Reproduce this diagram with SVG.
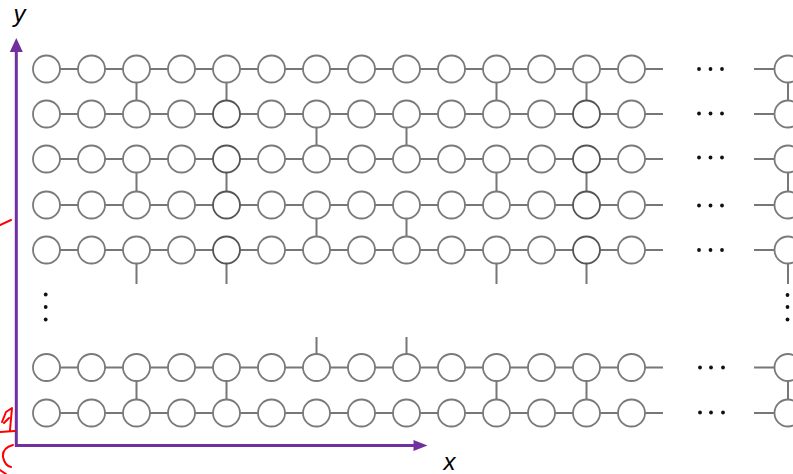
<svg xmlns="http://www.w3.org/2000/svg" width="793" height="474" viewBox="0 0 793 474">
<style>
.n{fill:#fff;stroke:#7a7a7a;stroke-width:1.8}
.dk{stroke:#555}
.e{stroke:#777;stroke-width:2;fill:none}
.ax{stroke:#7030a0;stroke-width:3;fill:none}
.dot{fill:#111}
.lbl{font-family:"Liberation Sans",Arial,sans-serif;font-style:italic;font-size:24px;fill:#000}
.red{stroke:#f00;stroke-width:2;fill:none;stroke-linecap:round;stroke-linejoin:round}
</style>
<rect width="793" height="474" fill="#fff"/>
<g id="connectors">
<path class="e" d="M46.5 69H663M754 69H788M46.5 114H663M754 114H788M46.5 159H663M754 159H788M46.5 205H663M754 205H788M46.5 250H663M754 250H788M46.5 367.5H663M754 367.5H788M46.5 413H663M754 413H788"/>
<path class="e" d="M136.5 69V114M226.5 69V114M496.5 69V114M586.5 69V114M788 69V114
M316.5 114V159M406.5 114V159
M136.5 159V205M226.5 159V205M496.5 159V205M586.5 159V205M788 159V205
M316.5 205V250M406.5 205V250
M136.5 250V284M226.5 250V284M496.5 250V284M586.5 250V284M788 250V284
M316.5 337V367.5M406.5 337V367.5
M136.5 367.5V413M226.5 367.5V413M496.5 367.5V413M586.5 367.5V413M788 367.5V413"/>
</g>
<g id="r1">
<g id="n1-0"><circle class="n" cx="46.5" cy="69" r="13.5"/></g>
<g id="n1-1"><circle class="n" cx="91.5" cy="69" r="13.5"/></g>
<g id="n1-2"><circle class="n" cx="136.5" cy="69" r="13.5"/></g>
<g id="n1-3"><circle class="n" cx="181.5" cy="69" r="13.5"/></g>
<g id="n1-4"><circle class="n" cx="226.5" cy="69" r="13.5"/></g>
<g id="n1-5"><circle class="n" cx="271.5" cy="69" r="13.5"/></g>
<g id="n1-6"><circle class="n" cx="316.5" cy="69" r="13.5"/></g>
<g id="n1-7"><circle class="n" cx="361.5" cy="69" r="13.5"/></g>
<g id="n1-8"><circle class="n" cx="406.5" cy="69" r="13.5"/></g>
<g id="n1-9"><circle class="n" cx="451.5" cy="69" r="13.5"/></g>
<g id="n1-10"><circle class="n" cx="496.5" cy="69" r="13.5"/></g>
<g id="n1-11"><circle class="n" cx="541.5" cy="69" r="13.5"/></g>
<g id="n1-12"><circle class="n" cx="586.5" cy="69" r="13.5"/></g>
<g id="n1-13"><circle class="n" cx="631.5" cy="69" r="13.5"/></g>
<g id="n1-N"><circle class="n" cx="788" cy="69" r="13.5"/></g>
</g>
<g id="r2">
<g id="n2-0"><circle class="n" cx="46.5" cy="114" r="13.5"/></g>
<g id="n2-1"><circle class="n" cx="91.5" cy="114" r="13.5"/></g>
<g id="n2-2"><circle class="n" cx="136.5" cy="114" r="13.5"/></g>
<g id="n2-3"><circle class="n" cx="181.5" cy="114" r="13.5"/></g>
<g id="n2-4"><circle class="n dk" cx="226.5" cy="114" r="13.5"/></g>
<g id="n2-5"><circle class="n" cx="271.5" cy="114" r="13.5"/></g>
<g id="n2-6"><circle class="n" cx="316.5" cy="114" r="13.5"/></g>
<g id="n2-7"><circle class="n" cx="361.5" cy="114" r="13.5"/></g>
<g id="n2-8"><circle class="n" cx="406.5" cy="114" r="13.5"/></g>
<g id="n2-9"><circle class="n" cx="451.5" cy="114" r="13.5"/></g>
<g id="n2-10"><circle class="n" cx="496.5" cy="114" r="13.5"/></g>
<g id="n2-11"><circle class="n" cx="541.5" cy="114" r="13.5"/></g>
<g id="n2-12"><circle class="n dk" cx="586.5" cy="114" r="13.5"/></g>
<g id="n2-13"><circle class="n" cx="631.5" cy="114" r="13.5"/></g>
<g id="n2-N"><circle class="n" cx="788" cy="114" r="13.5"/></g>
</g>
<g id="r3">
<g id="n3-0"><circle class="n" cx="46.5" cy="159" r="13.5"/></g>
<g id="n3-1"><circle class="n" cx="91.5" cy="159" r="13.5"/></g>
<g id="n3-2"><circle class="n" cx="136.5" cy="159" r="13.5"/></g>
<g id="n3-3"><circle class="n" cx="181.5" cy="159" r="13.5"/></g>
<g id="n3-4"><circle class="n dk" cx="226.5" cy="159" r="13.5"/></g>
<g id="n3-5"><circle class="n" cx="271.5" cy="159" r="13.5"/></g>
<g id="n3-6"><circle class="n" cx="316.5" cy="159" r="13.5"/></g>
<g id="n3-7"><circle class="n" cx="361.5" cy="159" r="13.5"/></g>
<g id="n3-8"><circle class="n" cx="406.5" cy="159" r="13.5"/></g>
<g id="n3-9"><circle class="n" cx="451.5" cy="159" r="13.5"/></g>
<g id="n3-10"><circle class="n" cx="496.5" cy="159" r="13.5"/></g>
<g id="n3-11"><circle class="n" cx="541.5" cy="159" r="13.5"/></g>
<g id="n3-12"><circle class="n dk" cx="586.5" cy="159" r="13.5"/></g>
<g id="n3-13"><circle class="n" cx="631.5" cy="159" r="13.5"/></g>
<g id="n3-N"><circle class="n" cx="788" cy="159" r="13.5"/></g>
</g>
<g id="r4">
<g id="n4-0"><circle class="n" cx="46.5" cy="205" r="13.5"/></g>
<g id="n4-1"><circle class="n" cx="91.5" cy="205" r="13.5"/></g>
<g id="n4-2"><circle class="n" cx="136.5" cy="205" r="13.5"/></g>
<g id="n4-3"><circle class="n" cx="181.5" cy="205" r="13.5"/></g>
<g id="n4-4"><circle class="n dk" cx="226.5" cy="205" r="13.5"/></g>
<g id="n4-5"><circle class="n" cx="271.5" cy="205" r="13.5"/></g>
<g id="n4-6"><circle class="n" cx="316.5" cy="205" r="13.5"/></g>
<g id="n4-7"><circle class="n" cx="361.5" cy="205" r="13.5"/></g>
<g id="n4-8"><circle class="n" cx="406.5" cy="205" r="13.5"/></g>
<g id="n4-9"><circle class="n" cx="451.5" cy="205" r="13.5"/></g>
<g id="n4-10"><circle class="n" cx="496.5" cy="205" r="13.5"/></g>
<g id="n4-11"><circle class="n" cx="541.5" cy="205" r="13.5"/></g>
<g id="n4-12"><circle class="n dk" cx="586.5" cy="205" r="13.5"/></g>
<g id="n4-13"><circle class="n" cx="631.5" cy="205" r="13.5"/></g>
<g id="n4-N"><circle class="n" cx="788" cy="205" r="13.5"/></g>
</g>
<g id="r5">
<g id="n5-0"><circle class="n" cx="46.5" cy="250" r="13.5"/></g>
<g id="n5-1"><circle class="n" cx="91.5" cy="250" r="13.5"/></g>
<g id="n5-2"><circle class="n" cx="136.5" cy="250" r="13.5"/></g>
<g id="n5-3"><circle class="n" cx="181.5" cy="250" r="13.5"/></g>
<g id="n5-4"><circle class="n dk" cx="226.5" cy="250" r="13.5"/></g>
<g id="n5-5"><circle class="n" cx="271.5" cy="250" r="13.5"/></g>
<g id="n5-6"><circle class="n" cx="316.5" cy="250" r="13.5"/></g>
<g id="n5-7"><circle class="n" cx="361.5" cy="250" r="13.5"/></g>
<g id="n5-8"><circle class="n" cx="406.5" cy="250" r="13.5"/></g>
<g id="n5-9"><circle class="n" cx="451.5" cy="250" r="13.5"/></g>
<g id="n5-10"><circle class="n" cx="496.5" cy="250" r="13.5"/></g>
<g id="n5-11"><circle class="n" cx="541.5" cy="250" r="13.5"/></g>
<g id="n5-12"><circle class="n dk" cx="586.5" cy="250" r="13.5"/></g>
<g id="n5-13"><circle class="n" cx="631.5" cy="250" r="13.5"/></g>
<g id="n5-N"><circle class="n" cx="788" cy="250" r="13.5"/></g>
</g>
<g id="r6">
<g id="n6-0"><circle class="n" cx="46.5" cy="367.5" r="13.5"/></g>
<g id="n6-1"><circle class="n" cx="91.5" cy="367.5" r="13.5"/></g>
<g id="n6-2"><circle class="n" cx="136.5" cy="367.5" r="13.5"/></g>
<g id="n6-3"><circle class="n" cx="181.5" cy="367.5" r="13.5"/></g>
<g id="n6-4"><circle class="n" cx="226.5" cy="367.5" r="13.5"/></g>
<g id="n6-5"><circle class="n" cx="271.5" cy="367.5" r="13.5"/></g>
<g id="n6-6"><circle class="n" cx="316.5" cy="367.5" r="13.5"/></g>
<g id="n6-7"><circle class="n" cx="361.5" cy="367.5" r="13.5"/></g>
<g id="n6-8"><circle class="n" cx="406.5" cy="367.5" r="13.5"/></g>
<g id="n6-9"><circle class="n" cx="451.5" cy="367.5" r="13.5"/></g>
<g id="n6-10"><circle class="n" cx="496.5" cy="367.5" r="13.5"/></g>
<g id="n6-11"><circle class="n" cx="541.5" cy="367.5" r="13.5"/></g>
<g id="n6-12"><circle class="n" cx="586.5" cy="367.5" r="13.5"/></g>
<g id="n6-13"><circle class="n" cx="631.5" cy="367.5" r="13.5"/></g>
<g id="n6-N"><circle class="n" cx="788" cy="367.5" r="13.5"/></g>
</g>
<g id="r7">
<g id="n7-0"><circle class="n" cx="46.5" cy="413" r="13.5"/></g>
<g id="n7-1"><circle class="n" cx="91.5" cy="413" r="13.5"/></g>
<g id="n7-2"><circle class="n" cx="136.5" cy="413" r="13.5"/></g>
<g id="n7-3"><circle class="n" cx="181.5" cy="413" r="13.5"/></g>
<g id="n7-4"><circle class="n" cx="226.5" cy="413" r="13.5"/></g>
<g id="n7-5"><circle class="n" cx="271.5" cy="413" r="13.5"/></g>
<g id="n7-6"><circle class="n" cx="316.5" cy="413" r="13.5"/></g>
<g id="n7-7"><circle class="n" cx="361.5" cy="413" r="13.5"/></g>
<g id="n7-8"><circle class="n" cx="406.5" cy="413" r="13.5"/></g>
<g id="n7-9"><circle class="n" cx="451.5" cy="413" r="13.5"/></g>
<g id="n7-10"><circle class="n" cx="496.5" cy="413" r="13.5"/></g>
<g id="n7-11"><circle class="n" cx="541.5" cy="413" r="13.5"/></g>
<g id="n7-12"><circle class="n" cx="586.5" cy="413" r="13.5"/></g>
<g id="n7-13"><circle class="n" cx="631.5" cy="413" r="13.5"/></g>
<g id="n7-N"><circle class="n" cx="788" cy="413" r="13.5"/></g>
</g>
<g id="ellipses">
<circle class="dot" cx="699" cy="69" r="1.9"/><circle class="dot" cx="710.5" cy="69" r="1.9"/><circle class="dot" cx="722" cy="69" r="1.9"/>
<circle class="dot" cx="699" cy="113.5" r="1.9"/><circle class="dot" cx="710.5" cy="113.5" r="1.9"/><circle class="dot" cx="722" cy="113.5" r="1.9"/>
<circle class="dot" cx="699" cy="157.5" r="1.9"/><circle class="dot" cx="710.5" cy="157.5" r="1.9"/><circle class="dot" cx="722" cy="157.5" r="1.9"/>
<circle class="dot" cx="699" cy="205.5" r="1.9"/><circle class="dot" cx="710.5" cy="205.5" r="1.9"/><circle class="dot" cx="722" cy="205.5" r="1.9"/>
<circle class="dot" cx="699" cy="250" r="1.9"/><circle class="dot" cx="710.5" cy="250" r="1.9"/><circle class="dot" cx="722" cy="250" r="1.9"/>
<circle class="dot" cx="700" cy="367.5" r="1.9"/><circle class="dot" cx="711" cy="367.5" r="1.9"/><circle class="dot" cx="723" cy="367.5" r="1.9"/>
<circle class="dot" cx="700" cy="412.5" r="1.9"/><circle class="dot" cx="711" cy="412.5" r="1.9"/><circle class="dot" cx="723" cy="412.5" r="1.9"/>
<circle class="dot" cx="45.7" cy="294.5" r="1.9"/><circle class="dot" cx="45.7" cy="307" r="1.9"/><circle class="dot" cx="45.7" cy="319.5" r="1.9"/>
<circle class="dot" cx="787.5" cy="295" r="1.9"/><circle class="dot" cx="787.5" cy="307" r="1.9"/><circle class="dot" cx="787.5" cy="319.5" r="1.9"/>
</g>
<g id="axes">
<path class="ax" d="M16.3 447V50M15 445.5H416"/>
<path d="M16.3 38L9.8 52H22.8Z" fill="#7030a0"/>
<path d="M427.5 445.5L413.5 440V451Z" fill="#7030a0"/>
<text class="lbl" x="19.5" y="22" text-anchor="middle">y</text>
<text class="lbl" x="449.5" y="470" text-anchor="middle">x</text>
</g>
<g id="annotations">
<path class="red" d="M0 225L11 220"/>
<path class="red" d="M2 422L6 412L12 408L10 430M4 423L9 418M0 432L15 431"/>
<path class="red" d="M13 445Q2 448 3 457Q5 466 11 467M0 470L6 474"/>
</g>
</svg>
